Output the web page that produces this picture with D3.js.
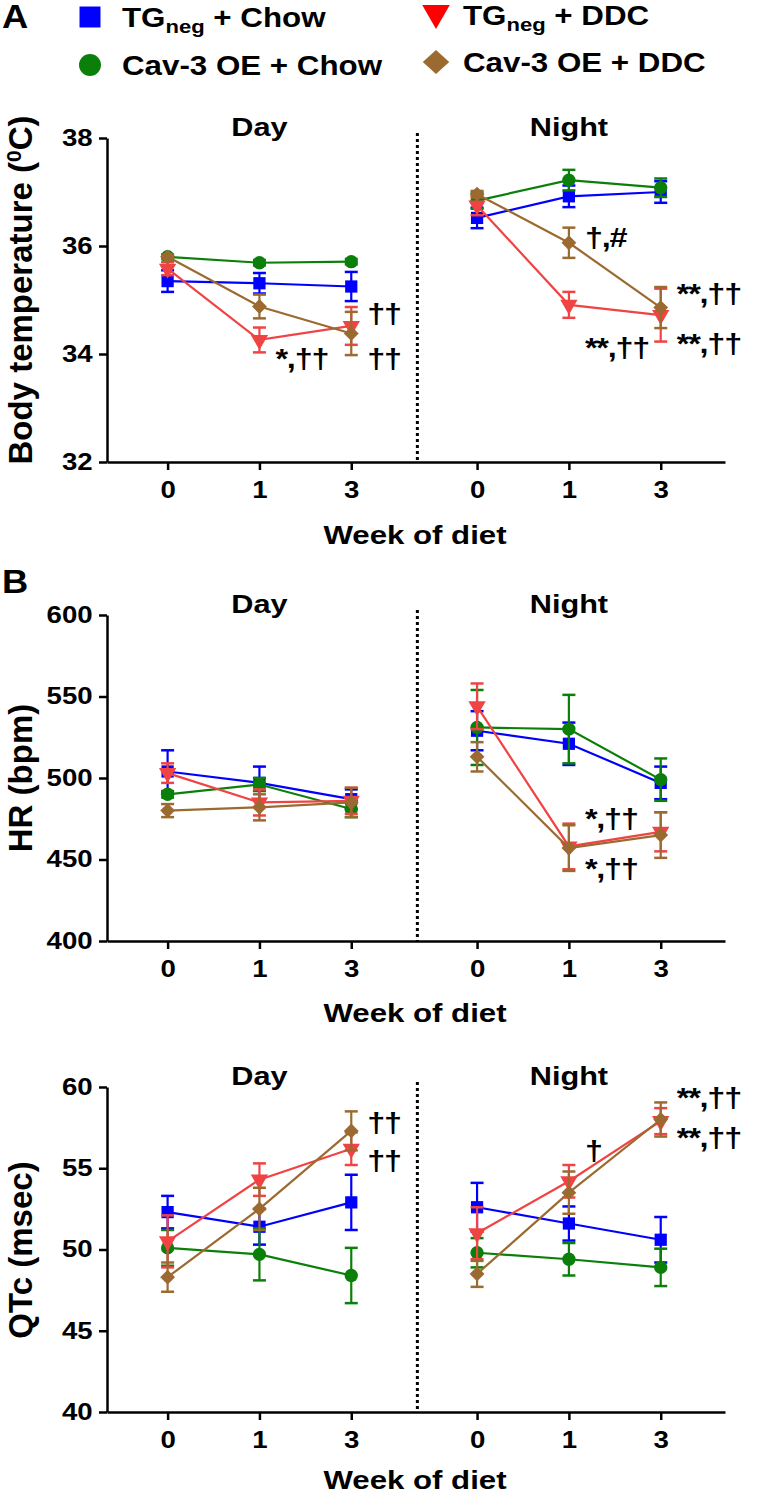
<!DOCTYPE html>
<html><head><meta charset="utf-8">
<script src="https://cdn.jsdelivr.net/npm/d3@7"></script>
<style>
body{margin:0;background:#fff}
svg{display:block}
text{font-family:"Liberation Sans",Arial,sans-serif;font-weight:bold;fill:#000;white-space:pre}
</style>
</head><body>
<svg id="chart" width="760" height="1497"></svg>
<script>
// ---------- data ----------
const weekLabels = ["0", "1", "3"];
const phaseLabels = ["Day", "Night"];
const seriesKeys = ["TGneg + Chow", "Cav-3 OE + Chow", "TGneg + DDC", "Cav-3 OE + DDC"];

// order of points: Day wk0, wk1, wk3, Night wk0, wk1, wk3
const tempTicks = [32, 34, 36, 38];
const tempMean_TGChow  = [35.35, 35.31, 35.25, 36.52, 36.92, 37.00];
const tempSem_TGChow   = [0.20, 0.19, 0.27, 0.19, 0.20, 0.20];
const tempMean_CavChow = [35.80, 35.69, 35.71, 36.84, 37.22, 37.08];
const tempSem_CavChow  = [0.04, 0.05, 0.05, 0.15, 0.19, 0.17];
const tempMean_TGDDC   = [35.58, 34.26, 34.52, 36.75, 34.91, 34.72];
const tempSem_TGDDC    = [0.12, 0.23, 0.35, 0.18, 0.24, 0.49];
const tempMean_CavDDC  = [35.80, 34.88, 34.38, 36.96, 36.06, 34.86];
const tempSem_CavDDC   = [0.04, 0.22, 0.40, 0.06, 0.28, 0.38];

const hrTicks = [400, 450, 500, 550, 600];
const hrMean_TGChow  = [504, 497, 487, 529, 521, 497];
const hrSem_TGChow   = [13, 10, 6, 12, 13, 10];
const hrMean_CavChow = [490, 496, 481, 531, 530, 499];
const hrSem_CavChow  = [2, 4, 5, 23, 21, 13];
const hrMean_TGDDC   = [503, 485, 486, 544, 458, 467];
const hrSem_TGDDC    = [6, 8, 8, 14, 14, 12];
const hrMean_CavDDC  = [480, 482, 485, 513, 457, 465];
const hrSem_CavDDC   = [4, 8, 9, 9, 14, 14];

const qtTicks = [40, 45, 50, 55, 60];
const qtMean_TGChow  = [52.3, 51.4, 52.9, 52.6, 51.6, 50.6];
const qtSem_TGChow   = [1.0, 1.1, 1.7, 1.5, 1.05, 1.4];
const qtMean_CavChow = [50.1, 49.7, 48.4, 49.8, 49.4, 48.9];
const qtSem_CavChow  = [1.1, 1.6, 1.7, 0.9, 1.0, 1.15];
const qtMean_TGDDC   = [50.5, 54.3, 56.2, 51.0, 54.2, 57.9];
const qtSem_TGDDC    = [1.6, 1.0, 1.0, 1.6, 1.0, 0.8];
const qtMean_CavDDC  = [48.3, 52.5, 57.3, 48.5, 53.5, 58.0];
const qtSem_CavDDC   = [0.9, 1.3, 1.2, 0.8, 1.3, 1.05];

// significance marks: [text, point index (0-5), value]
const tempMarks = [["*,††", 1, 33.93], ["††", 2, 34.76], ["††", 2, 33.93], ["†,#", 4, 36.17], ["**,††", 4, 34.13], ["**,††", 5, 35.13], ["**,††", 5, 34.20]];
const hrMarks = [["*,††", 4, 475.5], ["*,††", 4, 444.8]];
const qtMarks = [["††", 2, 57.85], ["††", 2, 55.5], ["†", 4, 56.12], ["**,††", 5, 59.38], ["**,††", 5, 56.92]];

// ---------- drawing ----------
const svg = d3.select("#chart");
const SX = 1.2;
const colors = ["#0000ff", "#0a800a", "#f04444", "#9b6a30"];
const legendColors = ["#0000ff", "#0a800a", "#ff0000", "#9b6a30"];
const shapes = [d3.symbolSquare, d3.symbolCircle, d3.symbolTriangle, d3.symbolSquare];
const shapeRot = [0, 0, 180, 45];
const shapeSize = [150, 140, 130, 110];

function stx(parent, x, y, size, anchor, sx, parts, rot, dy) {
  const g = parent.append("g").attr("transform", `translate(${x},${y}) scale(${sx},1)` + (rot ? ` rotate(${rot})` : ""));
  const t = g.append("text").attr("font-size", size).attr("text-anchor", anchor);
  if (dy) t.attr("dy", dy);
  if (typeof parts === "string") t.text(parts);
  else parts.forEach(p => {
    const s = t.append("tspan").text(p.t);
    if (p.dy) s.attr("dy", p.dy);
    if (p.size) s.attr("font-size", p.size);
  });
  return t;
}

// x scale (slot positions for Day 0,1,3 and Night 0,1,3)
const slots = [0, 1, 2, 3.37, 4.37, 5.37];
const x = d3.scaleLinear().domain([-0.66, 6.07]).range([107, 725]);
const dividerSlot = 2.72;

// legend
const legendItems = [
  {parts: [{t: "TG"}, {t: "neg", dy: 6, size: 19}, {t: " + Chow", dy: -6}], lx: 90, ly: 17, tx: 122, ty: 27},
  {parts: "Cav-3 OE + Chow", lx: 90, ly: 65, tx: 122, ty: 75},
  {parts: [{t: "TG"}, {t: "neg", dy: 6, size: 19}, {t: " + DDC", dy: -6}], lx: 436, ly: 13, tx: 463, ty: 25},
  {parts: "Cav-3 OE + DDC", lx: 436, ly: 62, tx: 463, ty: 72}
];
const legendSize = [440, 380, 330, 290];
legendItems.forEach((it, i) => {
  svg.append("path")
    .attr("d", d3.symbol().type(shapes[i]).size(legendSize[i])())
    .attr("transform", `translate(${it.lx},${it.ly}) scale(${i === 3 ? 1.1 : 1},1) rotate(${shapeRot[i]})`)
    .attr("fill", legendColors[i]);
  stx(svg, it.tx, it.ty, 27, "start", 1.16, it.parts);
});

const panels = [
  {letter: "A", letterY: 28, yTop: 138, yBot: 462, domain: [32, 38], ticks: tempTicks, titleOff: 82,
   ylabel: [{t: "Body temperature ("}, {t: "0", dy: -11, size: 21}, {t: "C)", dy: 11}], ylabelY: 290,
   means: [tempMean_TGChow, tempMean_CavChow, tempMean_TGDDC, tempMean_CavDDC],
   sems: [tempSem_TGChow, tempSem_CavChow, tempSem_TGDDC, tempSem_CavDDC], marks: tempMarks},
  {letter: "B", letterY: 593, yTop: 615, yBot: 941, domain: [400, 600], ticks: hrTicks, titleOff: 81,
   ylabel: "HR (bpm)", ylabelY: 778,
   means: [hrMean_TGChow, hrMean_CavChow, hrMean_TGDDC, hrMean_CavDDC],
   sems: [hrSem_TGChow, hrSem_CavChow, hrSem_TGDDC, hrSem_CavDDC], marks: hrMarks},
  {letter: null, yTop: 1087, yBot: 1412, domain: [40, 60], ticks: qtTicks, titleOff: 77,
   ylabel: "QTc (msec)", ylabelY: 1250,
   means: [qtMean_TGChow, qtMean_CavChow, qtMean_TGDDC, qtMean_CavDDC],
   sems: [qtSem_TGChow, qtSem_CavChow, qtSem_TGDDC, qtSem_CavDDC], marks: qtMarks}
];

panels.forEach(p => {
  const y = d3.scaleLinear().domain(p.domain).range([p.yBot, p.yTop]);
  const g = svg.append("g");

  if (p.letter) stx(g, 2, p.letterY, 33, "start", 1.1, p.letter);

  // y axis
  const ya = g.append("g").attr("transform", "translate(107,0)")
    .call(d3.axisLeft(y).tickValues(p.ticks).tickSize(8).tickSizeOuter(0).tickPadding(4).tickFormat(d3.format("d")));
  ya.attr("font-family", null).attr("font-size", null);
  ya.select(".domain").attr("stroke", "#000").attr("stroke-width", 2.5);
  ya.selectAll(".tick line").attr("stroke", "#000").attr("stroke-width", 2.5);
  ya.selectAll(".tick text").attr("font-size", 23).attr("fill", "#000").attr("transform", `scale(${SX},1)`);

  // x axis
  const xa = g.append("g").attr("transform", `translate(0,${p.yBot})`)
    .call(d3.axisBottom(x).tickValues(slots).tickSize(8).tickSizeOuter(0).tickPadding(11.5)
      .tickFormat((d, i) => weekLabels[i % 3]));
  xa.attr("font-family", null).attr("font-size", null);
  xa.select(".domain").attr("stroke", "#000").attr("stroke-width", 2.5);
  xa.selectAll(".tick line").attr("stroke", "#000").attr("stroke-width", 2.5);
  xa.selectAll(".tick text").attr("font-size", 23).attr("fill", "#000").attr("transform", `scale(${SX},1)`);

  // divider
  g.append("line").attr("x1", x(dividerSlot)).attr("x2", x(dividerSlot))
    .attr("y1", p.yTop - 5).attr("y2", p.yBot)
    .attr("stroke", "#000").attr("stroke-width", 3).attr("stroke-dasharray", "3,3");

  // phase titles
  stx(g, x(slots[1]), p.yTop - 2, 26, "middle", 1.18, phaseLabels[0]);
  stx(g, x(slots[4]), p.yTop - 2, 26, "middle", 1.18, phaseLabels[1]);

  // axis titles
  stx(g, 415, p.yBot + p.titleOff, 26, "middle", 1.2, "Week of diet");
  stx(g, 20, p.ylabelY, 33, "middle", 1.0, p.ylabel, -90, "0.36em");

  // series
  const line = d3.line().x(d => x(d[0])).y(d => y(d[1]));
  p.means.forEach((m, si) => {
    const pts = m.map((v, i) => [slots[i], v, p.sems[si][i]]);
    const col = colors[si];
    [pts.slice(0, 3), pts.slice(3)].forEach(seg => {
      g.append("path").attr("d", line(seg)).attr("fill", "none").attr("stroke", col).attr("stroke-width", 2.2);
    });
    pts.forEach(pt => {
      const cx = x(pt[0]);
      const y1 = y(pt[1] + pt[2]), y2 = y(pt[1] - pt[2]);
      g.append("line").attr("x1", cx).attr("x2", cx).attr("y1", y1).attr("y2", y2).attr("stroke", col).attr("stroke-width", 2.2);
      [y1, y2].forEach(yy => g.append("line").attr("x1", cx - 6.5).attr("x2", cx + 6.5).attr("y1", yy).attr("y2", yy).attr("stroke", col).attr("stroke-width", 2.5));
      g.append("path").attr("d", d3.symbol().type(shapes[si]).size(shapeSize[si])())
        .attr("transform", `translate(${cx},${y(pt[1])}) rotate(${shapeRot[si]})`)
        .attr("fill", col);
    });
  });

  // significance marks
  p.marks.forEach(mk => {
    const sx0 = x(slots[mk[1]]) + 16;
    stx(g, sx0, y(mk[2]), 27, "start", 1.2, mk[0], null, "0.36em").attr("letter-spacing", -1);
  });
});
</script>
</body></html>
